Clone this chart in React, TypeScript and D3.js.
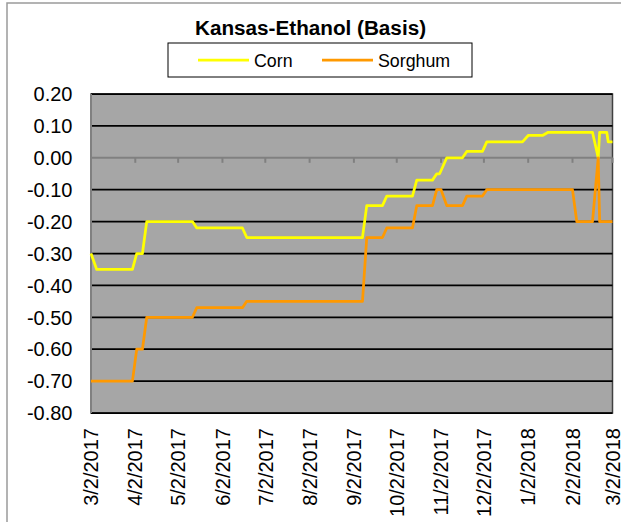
import * as d3 from 'd3'

const cornDates = [
  '2017-03-02', '2017-03-06', '2017-03-31', '2017-04-03', '2017-04-07', '2017-04-10',
  '2017-05-12', '2017-05-15', '2017-06-16', '2017-06-19', '2017-09-08', '2017-09-11',
  '2017-09-22', '2017-09-25', '2017-10-13', '2017-10-16', '2017-10-27', '2017-10-30',
  '2017-11-01', '2017-11-06', '2017-11-17', '2017-11-20', '2017-12-01', '2017-12-04',
  '2017-12-29', '2018-01-02', '2018-01-12', '2018-01-16', '2018-02-16', '2018-02-20',
  '2018-02-21', '2018-02-26', '2018-02-27', '2018-03-02',
]
const cornValues = [
  -0.30, -0.35, -0.35, -0.30, -0.30, -0.20,
  -0.20, -0.22, -0.22, -0.25, -0.25, -0.15,
  -0.15, -0.12, -0.12, -0.07, -0.07, -0.05,
  -0.05, 0.00, 0.00, 0.02, 0.02, 0.05,
  0.05, 0.07, 0.07, 0.08, 0.08, 0.00,
  0.08, 0.08, 0.05, 0.05,
]

const sorghumDates = [
  '2017-03-02', '2017-03-31', '2017-04-03', '2017-04-07', '2017-04-10', '2017-05-12',
  '2017-05-15', '2017-06-16', '2017-06-19', '2017-09-08', '2017-09-11', '2017-09-22',
  '2017-09-25', '2017-10-13', '2017-10-16', '2017-10-27', '2017-10-30', '2017-11-02',
  '2017-11-06', '2017-11-17', '2017-11-20', '2017-12-01', '2017-12-04', '2018-02-02',
  '2018-02-05', '2018-02-16', '2018-02-20', '2018-02-21', '2018-03-02',
]
const sorghumValues = [
  -0.70, -0.70, -0.60, -0.60, -0.50, -0.50,
  -0.47, -0.47, -0.45, -0.45, -0.25, -0.25,
  -0.22, -0.22, -0.15, -0.15, -0.10, -0.10,
  -0.15, -0.15, -0.12, -0.12, -0.10, -0.10,
  -0.20, -0.20, 0.00, -0.20, -0.20,
]

const xTickDates = [
  '2017-03-02', '2017-04-02', '2017-05-02', '2017-06-02', '2017-07-02', '2017-08-02',
  '2017-09-02', '2017-10-02', '2017-11-02', '2017-12-02', '2018-01-02', '2018-02-02',
  '2018-03-02',
]
const yTicks = [0.2, 0.1, 0, -0.1, -0.2, -0.3, -0.4, -0.5, -0.6, -0.7, -0.8]

const parse = d3.utcParse('%Y-%m-%d')
const fmtDate = (d: Date) => `${d.getUTCMonth() + 1}/${d.getUTCDate()}/${d.getUTCFullYear()}`

type Pt = { date: Date; value: number }
const toPts = (dates: string[], values: number[]): Pt[] =>
  dates.map((d, i) => ({ date: parse(d) as Date, value: values[i] }))

const corn = toPts(cornDates, cornValues)
const sorghum = toPts(sorghumDates, sorghumValues)

export default function App() {
  const W = 621
  const H = 522
  const plot = { left: 91, right: 612.5, top: 94, bottom: 413 }
  const font = 'Liberation Sans, Arial, sans-serif'

  const x = d3.scaleUtc()
    .domain([parse('2017-03-02') as Date, parse('2018-03-02') as Date])
    .range([plot.left, plot.right])
  const y = d3.scaleLinear().domain([-0.8, 0.2]).range([plot.bottom, plot.top])

  const line = d3.line<Pt>().x(d => x(d.date)).y(d => y(d.value))
  const ticks = xTickDates.map(s => parse(s) as Date)

  return (
    <svg width={W} height={H} style={{ position: 'absolute', left: 0, top: 0, background: '#fff' }}>
      <rect x={7} y={3} width={W + 10} height={H + 10} fill="#fff" stroke="#9a9a9a" strokeWidth={1.5} />

      <text x={310.5} y={35} textAnchor="middle" fontFamily={font} fontWeight="bold" fontSize={20.7}>
        Kansas-Ethanol (Basis)
      </text>

      <rect x={168} y={43} width={304} height={34} fill="#fff" stroke="#000" strokeWidth={1} />
      <line x1={198} x2={249} y1={60} y2={60} stroke="#ffff00" strokeWidth={2.75} />
      <text x={254} y={66.5} fontFamily={font} fontSize={17.8}>Corn</text>
      <line x1={322} x2={373} y1={60} y2={60} stroke="#ff9900" strokeWidth={2.75} />
      <text x={378} y={66.5} fontFamily={font} fontSize={17.8}>Sorghum</text>

      <rect x={plot.left} y={plot.top} width={plot.right - plot.left} height={plot.bottom - plot.top}
        fill="#a6a6a6" stroke="#404040" strokeWidth={1.5} />
      {yTicks.filter(v => v !== 0).map(v => (
        <line key={v} x1={plot.left} x2={plot.right} y1={y(v)} y2={y(v)} stroke="#000" strokeWidth={1.75} />
      ))}
      <line x1={plot.left} x2={plot.left} y1={plot.top} y2={plot.bottom} stroke="#808080" strokeWidth={2} />
      <line x1={plot.left} x2={plot.right} y1={y(0)} y2={y(0)} stroke="#808080" strokeWidth={2} />
      {ticks.map((t, i) => (
        <line key={i} x1={x(t)} x2={x(t)} y1={y(0)} y2={y(0) + 5} stroke="#808080" strokeWidth={2} />
      ))}

      <path d={line(corn) ?? ''} fill="none" stroke="#ffff00" strokeWidth={2.75} strokeLinejoin="round" />
      <path d={line(sorghum) ?? ''} fill="none" stroke="#ff9900" strokeWidth={2.75} strokeLinejoin="round" />

      {yTicks.map(v => (
        <text key={v} x={72.5} y={y(v)} dy="0.36em" textAnchor="end" fontFamily={font} fontSize={20}>
          {v.toFixed(2)}
        </text>
      ))}
      {ticks.map((t, i) => (
        <text key={i} transform={`translate(${x(t)},428) rotate(-90)`} dy="0.36em" textAnchor="end"
          fontFamily={font} fontSize={20}>
          {fmtDate(t)}
        </text>
      ))}
    </svg>
  )
}
